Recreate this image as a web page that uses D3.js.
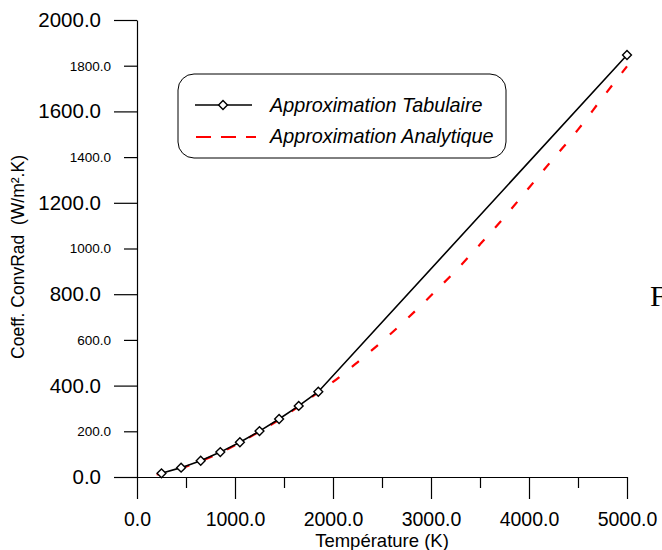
<!DOCTYPE html>
<html>
<head>
<meta charset="utf-8">
<script src="https://cdn.jsdelivr.net/npm/d3@7"></script>
<style>
  html, body { margin: 0; padding: 0; background: #fff; }
  svg { display: block; font-family: "Liberation Sans", Arial, sans-serif; }
</style>
</head>
<body>
<svg id="chart" width="662" height="550"></svg>
<script>
// ---- Data ----
const tabT = [250, 450, 650, 850, 1050, 1250, 1450, 1650, 1850, 5000];
const tabH = [16, 41, 71, 109, 152, 201, 254, 311, 373, 1847];

const anaT = [200, 250, 450, 650, 850, 1050, 1250, 1450, 1650, 1850, 2000, 2250, 2500, 2750, 3000, 3250, 3500, 3750, 4000, 4250, 4500, 4750, 5000];
const anaH = [11, 14, 38, 69, 106, 150, 199, 251, 309, 370, 416, 502, 593, 690, 794, 902, 1018, 1138, 1266, 1394, 1520, 1660, 1797];

const yMajor = [0, 400, 800, 1200, 1600, 2000];
const yMinor = [200, 600, 1000, 1400, 1800];
const xMajor = [0, 1000, 2000, 3000, 4000, 5000];
const xMinor = [500, 1500, 2500, 3500, 4500];

const seriesNames = ["Approximation Tabulaire", "Approximation Analytique"];
const xTitle = "Température (K)";
const yTitle = "Coeff. ConvRad  (W/m².K)";

// ---- Chart ----
const svg = d3.select("#chart");
const x = d3.scaleLinear().domain([0, 5000]).range([137, 627]);
const y = d3.scaleLinear().domain([0, 2000]).range([477, 20]);
const fmt = d3.format(".1f");

// Y axis major
const gyM = svg.append("g").attr("transform", "translate(137,0)")
  .call(d3.axisLeft(y).tickValues(yMajor).tickSize(23).tickSizeOuter(0).tickPadding(13).tickFormat(fmt));
gyM.selectAll("text").attr("font-size", 20.5).attr("font-family", "Liberation Sans, Arial, sans-serif");
// Y axis minor
const gym = svg.append("g").attr("transform", "translate(137,0)")
  .call(d3.axisLeft(y).tickValues(yMinor).tickSize(13).tickSizeOuter(0).tickPadding(13).tickFormat(fmt));
gym.selectAll("text").attr("font-size", 13.5).attr("font-family", "Liberation Sans, Arial, sans-serif");
gym.select(".domain").remove();

// X axis major
const gxM = svg.append("g").attr("transform", "translate(0,477)")
  .call(d3.axisBottom(x).tickValues(xMajor).tickSize(22).tickSizeOuter(0).tickPadding(13).tickFormat(fmt));
gxM.selectAll("text").attr("font-size", 19.5).attr("font-family", "Liberation Sans, Arial, sans-serif");
const gxm = svg.append("g").attr("transform", "translate(0,477)")
  .call(d3.axisBottom(x).tickValues(xMinor).tickSize(11).tickSizeOuter(0).tickFormat(""));
gxm.select(".domain").remove();

svg.selectAll(".domain, .tick line").attr("stroke", "#000").attr("stroke-width", 1.2);

// Titles
svg.append("text").attr("x", 382).attr("y", 547).attr("text-anchor", "middle")
  .attr("font-size", 18.5).text(xTitle);
svg.append("text").attr("transform", "translate(24,257) rotate(-90)").attr("text-anchor", "middle")
  .attr("font-size", 17.5).style("white-space", "pre").text(yTitle);

// Series
const ana = anaT.map((t, i) => [t, anaH[i]]);
const tab = tabT.map((t, i) => [t, tabH[i]]);

svg.append("path").datum(ana)
  .attr("d", d3.line().x(d => x(d[0])).y(d => y(d[1])).curve(d3.curveMonotoneX))
  .attr("fill", "none").attr("stroke", "#ff0000").attr("stroke-width", 2.2)
  .attr("stroke-dasharray", "9,16");

svg.append("path").datum(tab)
  .attr("d", d3.line().x(d => x(d[0])).y(d => y(d[1])))
  .attr("fill", "none").attr("stroke", "#000").attr("stroke-width", 1.6);

const diamond = d3.symbol().type(d3.symbolDiamond2).size(50);
svg.append("g").selectAll("path").data(tab).join("path")
  .attr("transform", d => `translate(${x(d[0])},${y(d[1])})`)
  .attr("d", diamond)
  .attr("fill", "#fff").attr("stroke", "#000").attr("stroke-width", 1.4);

// Legend
const lg = svg.append("g");
lg.append("rect").attr("x", 178).attr("y", 74).attr("width", 328).attr("height", 84)
  .attr("rx", 16).attr("ry", 16).attr("fill", "#fff").attr("stroke", "#000").attr("stroke-width", 1);
lg.append("line").attr("x1", 195).attr("x2", 252).attr("y1", 105).attr("y2", 105)
  .attr("stroke", "#000").attr("stroke-width", 1.6);
lg.append("path").attr("transform", "translate(223,105)").attr("d", diamond)
  .attr("fill", "#fff").attr("stroke", "#000").attr("stroke-width", 1.4);
lg.append("line").attr("x1", 196).attr("x2", 256).attr("y1", 137).attr("y2", 137)
  .attr("stroke", "#ff0000").attr("stroke-width", 2.2).attr("stroke-dasharray", "15,10");
lg.append("text").attr("x", 270).attr("y", 105).attr("dy", "0.35em")
  .attr("font-size", 19.8).attr("font-style", "italic").text(seriesNames[0]);
lg.append("text").attr("x", 270).attr("y", 136).attr("dy", "0.35em")
  .attr("font-size", 19.8).attr("font-style", "italic").text(seriesNames[1]);

// Stray letter at right edge (cut off in the reference too)
svg.append("text").attr("x", 650).attr("y", 306)
  .attr("font-family", "Liberation Serif, Times New Roman, serif").attr("font-size", 30).text("F");
</script>
</body>
</html>
